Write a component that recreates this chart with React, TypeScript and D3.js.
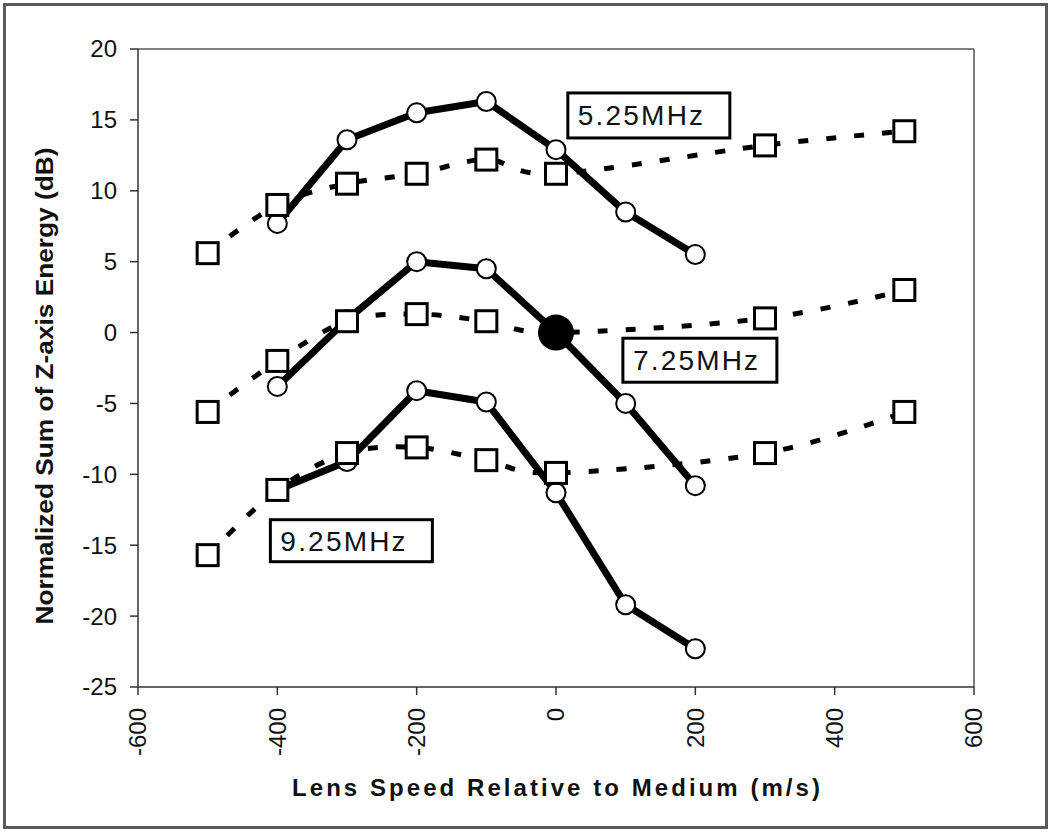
import React from "react";
import * as d3 from "d3";

// Solid (circle) series, x = -400..200
const circleX = [-400, -300, -200, -100, 0, 100, 200];
const circle525 = [7.7, 13.6, 15.5, 16.3, 12.9, 8.5, 5.5];
const circle725 = [-3.8, 0.9, 5.0, 4.5, 0.0, -5.0, -10.8];
const circle925 = [-11.1, -9.1, -4.1, -4.9, -11.3, -19.2, -22.3];

// Dashed (square) series
const squareX = [-500, -400, -300, -200, -100, 0, 300, 500];
const square525 = [5.6, 9.0, 10.5, 11.2, 12.2, 11.2, 13.2, 14.2];
const square725 = [-5.6, -2.0, 0.8, 1.3, 0.8, 0.0, 1.0, 3.0];
const square925 = [-15.7, -11.1, -8.5, -8.1, -9.0, -9.9, -8.5, -5.6];

const xTicks = [-600, -400, -200, 0, 200, 400, 600];
const yTicks = [-25, -20, -15, -10, -5, 0, 5, 10, 15, 20];

const labelTexts = ["5.25MHz", "7.25MHz", "9.25MHz"];
const labelX = [17, 96, -410];
const labelY = [16.9, -0.4, -13.2];

const FONT = "'Liberation Sans', Arial, Helvetica, sans-serif";

export default function App() {
  const left = 138, right = 974, top = 49, bottom = 687;
  const x = d3.scaleLinear().domain([-600, 600]).range([left, right]);
  const y = d3.scaleLinear().domain([-25, 20]).range([bottom, top]);

  const solid = d3
    .line<[number, number]>()
    .x((d) => x(d[0]))
    .y((d) => y(d[1]));
  const smooth = d3
    .line<[number, number]>()
    .x((d) => x(d[0]))
    .y((d) => y(d[1]))
    .curve(d3.curveCardinal.tension(0));

  const circleSeries = [circle525, circle725, circle925];
  const squareSeries = [square525, square725, square925];
  const boxW = [162, 154, 162];
  const boxH = [45, 44, 42];

  const sq = 21;

  return (
    <svg
      width={1050}
      height={832}
      style={{ position: "absolute", left: 0, top: 0, background: "#fff" }}
      fontFamily={FONT}
    >
      <rect x={0} y={0} width={1050} height={832} fill="#fff" />
      <rect x={4.5} y={4.5} width={1042} height={823} fill="none" stroke="#5a5a5a" strokeWidth={3} />

      {/* plot frame */}
      <line x1={left} x2={right} y1={top} y2={top} stroke="#555" strokeWidth={1.5} />
      <line x1={right} x2={right} y1={top} y2={bottom} stroke="#555" strokeWidth={1.5} />
      <line x1={left} x2={left} y1={top} y2={bottom} stroke="#333" strokeWidth={1.5} />
      <line x1={left} x2={right} y1={bottom} y2={bottom} stroke="#333" strokeWidth={1.5} />

      {/* y ticks */}
      {yTicks.map((t) => (
        <g key={"y" + t}>
          <line x1={left - 8} x2={left} y1={y(t)} y2={y(t)} stroke="#333" strokeWidth={1.5} />
          <text x={117} y={y(t)} dy="0.35em" textAnchor="end" fontSize={24} fill="#111">
            {t}
          </text>
        </g>
      ))}

      {/* x ticks */}
      {xTicks.map((t) => (
        <g key={"x" + t}>
          <line x1={x(t)} x2={x(t)} y1={bottom} y2={bottom + 8} stroke="#333" strokeWidth={1.5} />
          <text
            transform={`translate(${x(t)},${708}) rotate(-90)`}
            textAnchor="end"
            dy="0.35em"
            fontSize={24}
            fill="#111"
          >
            {t}
          </text>
        </g>
      ))}

      {/* axis titles */}
      <text
        x={556}
        y={796}
        textAnchor="middle"
        fontSize={24}
        fontWeight="bold"
        fill="#111"
        textLength={528}
        lengthAdjust="spacing"
      >
        Lens Speed Relative to Medium (m/s)
      </text>
      <text
        transform={`translate(53,386) rotate(-90)`}
        textAnchor="middle"
        fontSize={24}
        fontWeight="bold"
        fill="#111"
        textLength={477}
        lengthAdjust="spacingAndGlyphs"
      >
        Normalized Sum of Z-axis Energy (dB)
      </text>

      {/* dashed smoothed lines */}
      {squareSeries.map((s, i) => (
        <path
          key={"dl" + i}
          d={smooth(squareX.map((v, j) => [v, s[j]] as [number, number])) || ""}
          fill="none"
          stroke="#000"
          strokeWidth={5}
          strokeDasharray="10 18"
        />
      ))}

      {/* solid lines */}
      {circleSeries.map((s, i) => (
        <path
          key={"sl" + i}
          d={solid(circleX.map((v, j) => [v, s[j]] as [number, number])) || ""}
          fill="none"
          stroke="#000"
          strokeWidth={7}
          strokeLinejoin="round"
        />
      ))}

      {/* circle markers */}
      {circleSeries.map((s, i) =>
        circleX.map((v, j) => (
          <circle
            key={"c" + i + "-" + j}
            cx={x(v)}
            cy={y(s[j])}
            r={9.5}
            fill="#fff"
            stroke="#000"
            strokeWidth={2}
          />
        ))
      )}

      {/* square markers */}
      {squareSeries.map((s, i) =>
        squareX.map((v, j) =>
          i === 1 && v === 0 ? null : (
            <rect
              key={"s" + i + "-" + j}
              x={x(v) - sq / 2}
              y={y(s[j]) - sq / 2}
              width={sq}
              height={sq}
              fill="#fff"
              stroke="#000"
              strokeWidth={3}
            />
          )
        )
      )}

      {/* reference point */}
      <circle cx={x(0)} cy={y(0)} r={18} fill="#000" />

      {/* labels */}
      {labelTexts.map((t, i) => {
        const bx = x(labelX[i]);
        const by = y(labelY[i]);
        return (
          <g key={t}>
            <rect x={bx} y={by} width={boxW[i]} height={boxH[i]} fill="#fff" stroke="#000" strokeWidth={3} />
            <text x={bx + 10} y={by + boxH[i] / 2 + 10} fontSize={28} fill="#111" letterSpacing={2.2}>
              {t}
            </text>
          </g>
        );
      })}
    </svg>
  );
}
